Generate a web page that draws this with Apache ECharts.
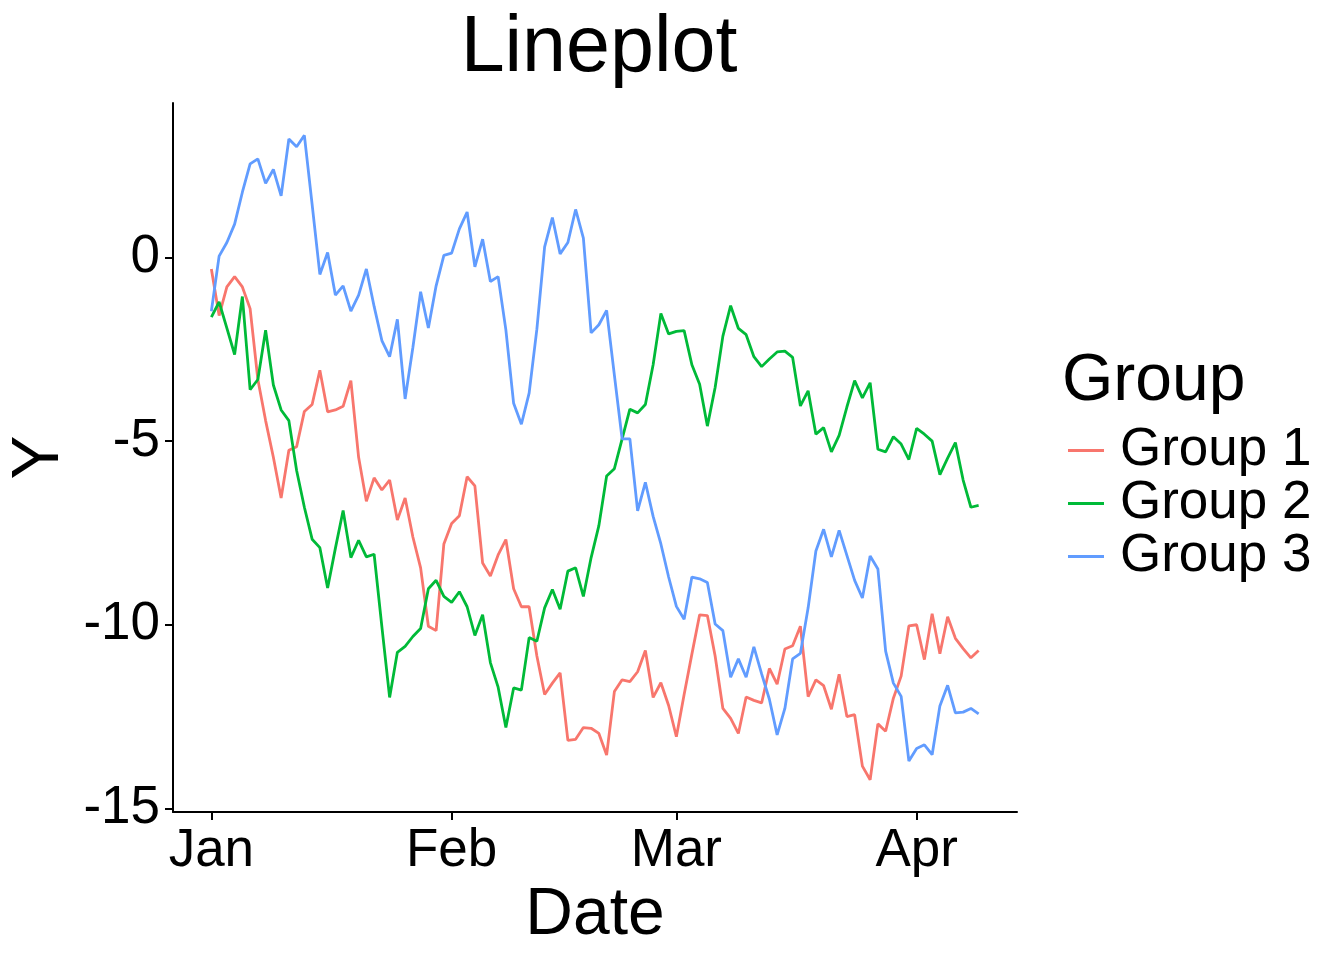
<!DOCTYPE html>
<html><head><meta charset="utf-8">
<script src="https://cdn.jsdelivr.net/npm/echarts@6/dist/echarts.min.js"></script>
<style>html,body{margin:0;padding:0;background:#fff}#c{width:1344px;height:960px}</style>
</head><body><div id="c"></div>
<script>
const startDate = '2020-01-01';
const monthTicks = ['2020-01-01','2020-02-01','2020-03-01','2020-04-01'];
const monthLabels = ['Jan','Feb','Mar','Apr'];
const yTicks = [-15,-10,-5,0];
const groupNames = ['Group 1','Group 2','Group 3'];

const group1 = [-0.31,-1.58,-0.80,-0.52,-0.80,-1.39,-3.32,-4.44,-5.44,-6.55,
-5.25,-5.15,-4.19,-4.00,-3.07,-4.20,-4.15,-4.05,-3.35,-5.44,
-6.64,-6.00,-6.33,-6.06,-7.15,-6.55,-7.61,-8.45,-10.04,-10.16,
-7.80,-7.24,-7.03,-5.97,-6.22,-8.32,-8.67,-8.10,-7.68,-9.02,
-9.51,-9.51,-10.85,-11.90,-11.59,-11.31,-13.15,-13.12,-12.80,-12.82,
-12.96,-13.55,-11.82,-11.50,-11.55,-11.28,-10.70,-11.98,-11.58,-12.20,
-13.05,-11.90,-10.80,-9.73,-9.75,-10.85,-12.28,-12.55,-12.96,-11.97,
-12.06,-12.13,-11.19,-11.62,-10.66,-10.57,-10.04,-11.96,-11.50,-11.66,
-12.30,-11.35,-12.50,-12.45,-13.85,-14.22,-12.70,-12.90,-12.00,-11.40,
-10.03,-10.00,-10.95,-9.70,-10.79,-9.78,-10.37,-10.65,-10.90,-10.70];

const group2 = [-1.62,-1.21,-1.92,-2.64,-1.06,-3.60,-3.32,-1.98,-3.47,-4.15,
-4.44,-5.80,-6.80,-7.67,-7.90,-9.00,-7.92,-6.89,-8.17,-7.70,
-8.15,-8.08,-10.05,-11.98,-10.75,-10.59,-10.32,-10.10,-9.02,-8.79,
-9.23,-9.39,-9.10,-9.51,-10.29,-9.73,-11.03,-11.70,-12.80,-11.72,
-11.78,-10.35,-10.45,-9.54,-9.04,-9.58,-8.54,-8.45,-9.23,-8.17,
-7.30,-5.95,-5.75,-4.94,-4.13,-4.23,-4.00,-2.92,-1.52,-2.08,
-2.01,-1.99,-2.92,-3.45,-4.59,-3.54,-2.14,-1.31,-1.93,-2.10,
-2.70,-2.97,-2.76,-2.57,-2.55,-2.72,-4.04,-3.63,-4.81,-4.63,
-5.29,-4.84,-4.07,-3.35,-3.82,-3.41,-5.22,-5.29,-4.88,-5.08,
-5.50,-4.65,-4.81,-5.00,-5.91,-5.46,-5.04,-6.06,-6.80,-6.75];

const group3 = [-1.46,0.04,0.41,0.91,1.78,2.55,2.69,2.02,2.40,1.68,
3.23,3.02,3.33,1.45,-0.46,0.14,-1.02,-0.77,-1.46,-1.02,
-0.31,-1.33,-2.26,-2.70,-1.68,-3.85,-2.45,-0.93,-1.92,-0.77,
0.06,0.12,0.78,1.24,-0.25,0.50,-0.65,-0.52,-1.97,-3.97,
-4.54,-3.69,-1.95,0.29,1.09,0.10,0.41,1.31,0.53,-2.05,
-1.83,-1.44,-3.20,-4.94,-4.94,-6.90,-6.12,-7.05,-7.80,-8.70,
-9.50,-9.85,-8.70,-8.75,-8.85,-9.98,-10.16,-11.43,-10.93,-11.43,
-10.60,-11.34,-12.03,-13.00,-12.28,-10.93,-10.78,-9.54,-7.99,-7.40,
-8.15,-7.43,-8.11,-8.79,-9.27,-8.13,-8.48,-10.72,-11.59,-11.95,
-13.71,-13.37,-13.27,-13.54,-12.21,-11.65,-12.40,-12.38,-12.28,-12.43];

const colors = ['#F8766D', '#00BA38', '#619CFF'];
const DAY = 86400000;
const t0 = Date.parse(startDate);
const tickDays = monthTicks.map(d => Math.round((Date.parse(d) - t0) / DAY));
const allSeries = [group1, group2, group3];
const FONT = '"Liberation Sans", Arial, Helvetica, sans-serif';

const chart = echarts.init(document.getElementById('c'), null, {renderer: 'canvas'});
chart.setOption({
  animation: false,
  backgroundColor: '#ffffff',
  textStyle: {fontFamily: FONT, color: '#000'},
  title: [
    {text: 'Lineplot', left: 594, top: 5, textAlign: 'center',
     textStyle: {fontFamily: FONT, fontSize: 79, fontWeight: 'normal', color: '#000'}},
    {text: 'Group', left: 1057, top: 344,
     textStyle: {fontFamily: FONT, fontSize: 66, fontWeight: 'normal', color: '#000'}}
  ],
  grid: {left: 173, right: 327, top: 103, bottom: 148, containLabel: false, outerBoundsMode: 'none'},
  legend: {
    orient: 'vertical', left: 1063, top: 419,
    icon: 'rect', itemWidth: 36, itemHeight: 3, itemGap: 0,
    textStyle: {fontFamily: FONT, fontSize: 53, color: '#000', lineHeight: 48, padding: [0, 0, 0, 11]},
    data: groupNames
  },
  xAxis: {
    type: 'value', min: -4.95, max: 103.95,
    name: 'Date', nameLocation: 'middle', nameGap: 70,
    nameTextStyle: {fontFamily: FONT, fontSize: 66, color: '#000'},
    axisLine: {show: true, onZero: false, lineStyle: {color: '#000', width: 2}},
    axisTick: {show: true, length: 8, lineStyle: {color: '#000', width: 2}, customValues: tickDays},
    axisLabel: {customValues: tickDays, formatter: v => monthLabels[tickDays.indexOf(v)],
      fontFamily: FONT, fontSize: 53, color: '#000', margin: 13},
    splitLine: {show: false}
  },
  yAxis: {
    type: 'value', min: -15.1, max: 4.21,
    name: 'Y', nameLocation: 'middle', nameGap: 96, nameRotate: 90,
    nameTextStyle: {fontFamily: FONT, fontSize: 66, color: '#000'},
    axisLine: {show: true, onZero: false, lineStyle: {color: '#000', width: 2}},
    axisTick: {show: true, length: 8, lineStyle: {color: '#000', width: 2}, customValues: yTicks},
    axisLabel: {customValues: yTicks, formatter: v => String(v),
      fontFamily: FONT, fontSize: 53, color: '#000', margin: 13},
    splitLine: {show: false}
  },
  series: allSeries.map((vals, k) => ({
    name: groupNames[k], type: 'line', showSymbol: false, symbol: 'none',
    color: colors[k],
    lineStyle: {color: colors[k], width: 2.8},
    data: vals.map((v, i) => [i, v])
  }))
});
</script></body></html>
